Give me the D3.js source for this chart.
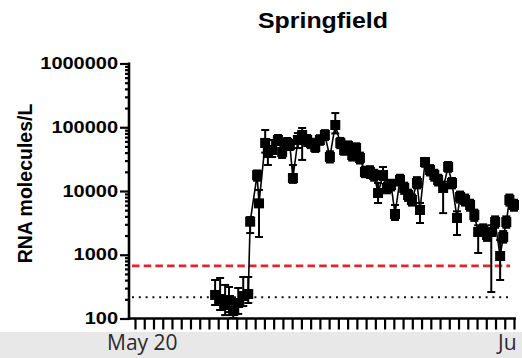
<!DOCTYPE html>
<html><head><meta charset="utf-8">
<script src="https://cdn.jsdelivr.net/npm/d3@7"></script>
<style>
html,body{margin:0;padding:0;background:#fff;overflow:hidden}
svg{display:block}
</style></head><body>
<svg id="chart" width="522" height="358"></svg>
<script>
// Chart text
const chartTitle = "Springfield";
const yAxisTitle = "RNA molecules/L";
const xStartLabel = "May 20";
const xEndLabel = "Ju";

// Axis settings
const dayRange = ["2020-05-20T00", "2020-06-30T00"];
const yMajorTicks = [100, 1000, 10000, 100000, 1000000];

// Reference levels
const redLevel = 670;
const dottedLevel = 215;

// Samples: collection time, mean, lower and upper error
const sampleTimes = [
  "2020-05-28T16","2020-05-29T05","2020-05-29T18","2020-05-30T04","2020-05-30T15",
  "2020-05-31T04","2020-05-31T17","2020-06-01T06","2020-06-01T11","2020-06-02T05",
  "2020-06-02T10","2020-06-03T02","2020-06-03T09","2020-06-03T20","2020-06-04T11",
  "2020-06-04T22","2020-06-05T11","2020-06-05T18","2020-06-06T02","2020-06-06T15",
  "2020-06-07T02","2020-06-07T15","2020-06-08T01","2020-06-08T12","2020-06-09T00",
  "2020-06-09T13","2020-06-10T02","2020-06-10T16","2020-06-11T05","2020-06-11T15",
  "2020-06-12T01","2020-06-12T12","2020-06-12T22","2020-06-13T08","2020-06-13T21",
  "2020-06-14T10","2020-06-14T21","2020-06-15T07","2020-06-15T20","2020-06-16T06",
  "2020-06-16T17","2020-06-17T03","2020-06-17T16","2020-06-18T03","2020-06-18T13",
  "2020-06-18T23","2020-06-19T12","2020-06-19T20","2020-06-20T09","2020-06-20T22",
  "2020-06-21T09","2020-06-21T19","2020-06-22T08","2020-06-22T21","2020-06-23T07",
  "2020-06-23T20","2020-06-24T04","2020-06-24T17","2020-06-25T06","2020-06-25T17",
  "2020-06-26T03","2020-06-26T16","2020-06-27T02","2020-06-27T13","2020-06-27T23",
  "2020-06-28T12","2020-06-28T20","2020-06-29T04","2020-06-29T12","2020-06-30T00"
];
const rnaMean = [
  234,202,163,195,131, 175,225,242,3300,17700,
  6400,56700,39500,44000,63100, 41000,56500,52700,16000,63100,
  75600,63100,56500,49000,63100, 75600,34200,108500,56500,44000,
  50800,36700,47200,33000,19900, 19900,17800,9300,17800,11150,
  12400,4360,14900,11150,8650, 7230,13350,5040,28500,21350,
  17800,14900,11150,23800,13350, 3770,8050,7230,6030,4200,
  2275,2450,2040,2275,3260, 955,1900,3260,7230,6030
];
const rnaLow = [
  163,136,113,126,102, 118,157,175,2190,14500,
  1900,40000,25600,34100,52700, 33000,44000,44000,13400,47200,
  30700,50800,47000,41000,53000, 63000,28000,80000,47000,37000,
  42000,30000,39000,27000,16500, 16000,14500,6480,14900,9200,
  10200,3510,12200,9000,7000, 5900,11000,3150,24000,17500,
  14500,12200,4500,20000,11000, 2040,6600,5900,4900,3400,
  1065,2000,1650,260,2650, 402,1550,2650,5900,4900
];
const rnaHigh = [
  402,432,336,312,195, 301,448,448,3900,21000,
  10400,90600,49000,63200,75600, 52700,67800,63100,25600,81000,
  97300,75600,66000,58000,75000, 90000,42000,167000,68000,52700,
  60000,44000,56000,40000,24000, 24500,21500,13400,23800,13500,
  15000,6030,18000,13500,10500, 8800,16500,6500,32000,25500,
  21500,18000,14000,28500,16000, 4800,9800,8800,7300,5100,
  2900,3000,2500,2900,4000, 1700,2350,4000,8800,7300
];

const parseTime = d3.utcParse("%Y-%m-%dT%H");
const samples = sampleTimes.map((t, i) => ({
  t: parseTime(t), v: rnaMean[i], lo: rnaLow[i], hi: rnaHigh[i]
}));

const svg = d3.select("#chart");
const W = 522, H = 358;
const axisX = 129, axisY = 318.5, plotTop = 63.5, plotRight = 514;

const x = d3.scaleUtc().domain(dayRange.map(parseTime)).range([135, plotRight]);
const y = d3.scaleLog().domain([100, 1000000]).range([axisY, plotTop]);

// grey footer band with date labels
svg.append("rect").attr("x", 0).attr("y", 332).attr("width", W).attr("height", H - 332)
  .attr("fill", "#e8e8e8");
svg.append("text").attr("x", 107).attr("y", 350)
  .attr("font-family", "'Open Sans', sans-serif").attr("font-size", 21)
  .attr("fill", "#2a2a2a").text(xStartLabel);
svg.append("text").attr("x", 498).attr("y", 350)
  .attr("font-family", "'Open Sans', sans-serif").attr("font-size", 21)
  .attr("fill", "#2a2a2a").text(xEndLabel);

// title
svg.append("text").attr("x", 323).attr("y", 28).attr("text-anchor", "middle")
  .attr("font-family", "Arial, 'Liberation Sans', sans-serif").attr("font-weight", "bold")
  .attr("font-size", 22).attr("textLength", 130).attr("lengthAdjust", "spacingAndGlyphs")
  .attr("fill", "#000").text(chartTitle);

// y axis title
svg.append("text").attr("transform", `translate(32,${(plotTop + axisY) / 2 - 7.5}) rotate(-90)`)
  .attr("text-anchor", "middle")
  .attr("font-family", "Arial, 'Liberation Sans', sans-serif").attr("font-weight", "bold")
  .attr("font-size", 19.5).attr("fill", "#000").text(yAxisTitle);

// reference lines
const refX1 = x.range()[0] - 3, refX2 = plotRight - 4;
svg.append("line").attr("x1", refX1).attr("x2", refX2)
  .attr("y1", y(redLevel)).attr("y2", y(redLevel))
  .attr("stroke", "#e3242b").attr("stroke-width", 2.6).attr("stroke-dasharray", "7.5,4.2");
svg.append("line").attr("x1", refX1).attr("x2", refX2)
  .attr("y1", y(dottedLevel)).attr("y2", y(dottedLevel))
  .attr("stroke", "#111").attr("stroke-width", 2).attr("stroke-dasharray", "2,4.8");

// y axis: majors with labels, minors without
const minorTicks = [];
for (let e = 2; e < 6; e++) for (let m = 2; m <= 9; m++) minorTicks.push(m * Math.pow(10, e));

const yMinor = svg.append("g").attr("transform", `translate(${axisX},0)`)
  .call(d3.axisLeft(y).tickValues(minorTicks).tickSize(4).tickFormat(""));
const yMajor = svg.append("g").attr("transform", `translate(${axisX},0)`)
  .call(d3.axisLeft(y).tickValues(yMajorTicks).tickSize(9).tickPadding(2)
    .tickFormat(d3.format("d")));
[yMinor, yMajor].forEach(g => {
  g.select(".domain").remove();
  g.selectAll(".tick line").attr("stroke", "#000").attr("stroke-width", 2.2);
});
yMajor.selectAll(".tick text")
  .attr("font-family", "Arial, 'Liberation Sans', sans-serif").attr("font-weight", "bold")
  .attr("font-size", 16).attr("fill", "#000")
  .attr("textLength", d => String(d).length * 11.1).attr("lengthAdjust", "spacingAndGlyphs");

// x axis: one tick per day
const xAx = svg.append("g").attr("transform", `translate(0,${axisY})`)
  .call(d3.axisBottom(x).ticks(d3.utcDay.every(1)).tickSize(11).tickFormat(""));
xAx.select(".domain").remove();
xAx.selectAll(".tick line").attr("stroke", "#000").attr("stroke-width", 2.2);

// axis lines
svg.append("line").attr("x1", axisX).attr("x2", axisX).attr("y1", plotTop - 1).attr("y2", axisY + 1.2)
  .attr("stroke", "#000").attr("stroke-width", 2.6);
svg.append("line").attr("x1", axisX - 1.2).attr("x2", plotRight + 2).attr("y1", axisY).attr("y2", axisY)
  .attr("stroke", "#000").attr("stroke-width", 2.6);

// data: connecting line, error bars, square markers
const marks = svg.append("g");
marks.append("path").datum(samples)
  .attr("d", d3.line().x(d => x(d.t)).y(d => y(d.v)))
  .attr("fill", "none").attr("stroke", "#000").attr("stroke-width", 1.6);

const cap = 4;
const eb = marks.selectAll(".eb").data(samples).join("g").attr("class", "eb")
  .attr("stroke", "#000").attr("stroke-width", 2);
eb.append("line").attr("x1", d => x(d.t)).attr("x2", d => x(d.t))
  .attr("y1", d => y(d.lo)).attr("y2", d => y(d.hi));
eb.append("line").attr("x1", d => x(d.t) - cap).attr("x2", d => x(d.t) + cap)
  .attr("y1", d => y(d.hi)).attr("y2", d => y(d.hi));
eb.append("line").attr("x1", d => x(d.t) - cap).attr("x2", d => x(d.t) + cap)
  .attr("y1", d => y(d.lo)).attr("y2", d => y(d.lo));

const s = 10;
marks.selectAll(".pt").data(samples).join("rect").attr("class", "pt")
  .attr("x", d => x(d.t) - s / 2).attr("y", d => y(d.v) - s / 2)
  .attr("width", s).attr("height", s).attr("fill", "#000");
</script>
</body></html>
